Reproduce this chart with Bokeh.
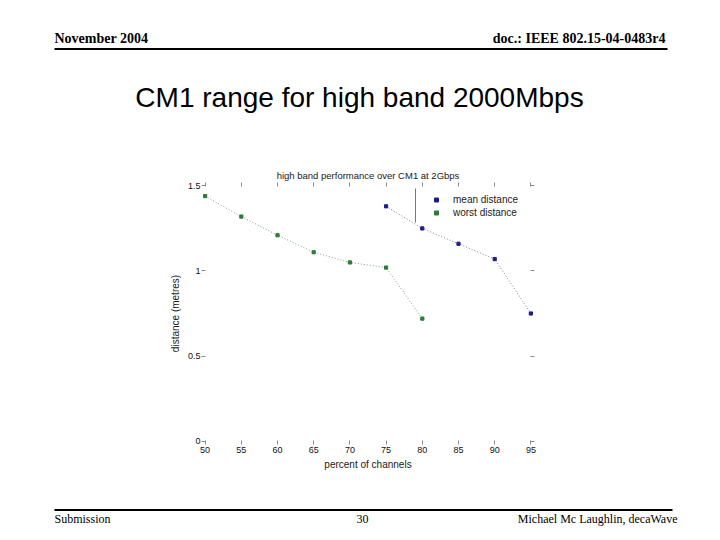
from bokeh.plotting import figure
from bokeh.layouts import column
from bokeh.models import (Range1d, LinearAxis, Label, Arrow, Legend, LegendItem,
                          FixedTicker, ColumnDataSource, Title)
from bokeh.embed import file_html
from bokeh.resources import INLINE

# ---- data ----
percent_mean = [75, 80, 85, 90, 95]
mean_distance = [1.38, 1.25, 1.16, 1.07, 0.75]
percent_worst = [50, 55, 60, 65, 70, 75, 80]
worst_distance = [1.44, 1.32, 1.21, 1.11, 1.05, 1.02, 0.72]

x_ticks = [50, 55, 60, 65, 70, 75, 80, 85, 90, 95]
y_ticks = [0, 0.5, 1, 1.5]
y_tick_labels = ["0", "0.5", "1", "1.5"]

chart_title = "high band performance over CM1 at 2Gbps"
x_label = "percent of channels"
y_label = "distance (metres)"
slide_title = "CM1 range for high band 2000Mbps"
header_left = "November 2004"
header_right = "doc.: IEEE 802.15-04-0483r4"
footer_left = "Submission"
footer_mid = "30"
footer_right = "Michael Mc Laughlin, decaWave"

SANS = "Liberation Sans"
SERIF = "Liberation Serif"
TICK_COLOR = "#8a8a8a"
W = 712
H_HEAD, H_CHART, H_FOOT = 150, 340, 42


def deco_figure(y0, y1):
    f = figure(width=W, height=y1 - y0, x_range=Range1d(0, W), y_range=Range1d(y1, y0),
               x_axis_type=None, y_axis_type=None, output_backend="svg",
               toolbar_location=None, min_border=0, frame_align=False)
    f.outline_line_color = None
    f.grid.visible = False
    f.background_fill_color = "white"
    f.border_fill_color = "white"
    return f


def add_text(f, text, x, y, font, size, align="left", style="normal"):
    f.add_layout(Label(x=x, y=y, text=text, text_font=font, text_font_size=size,
                       text_align=align, text_baseline="middle", text_font_style=style,
                       text_color="black"))


# ---- slide header ----
head = deco_figure(0, H_HEAD)
add_text(head, header_left, 54, 38, SERIF, "14px", style="bold")
add_text(head, header_right, 665, 38, SERIF, "14px", align="right", style="bold")
head.segment(x0=[54], y0=[48.5], x1=[667], y1=[48.5], line_color="black", line_width=2)
add_text(head, slide_title, 359, 97, SANS, "28px", align="center")

# ---- chart ----
p = figure(width=W, height=H_CHART, x_range=Range1d(49.5, 95.5), y_range=Range1d(-0.02, 1.52),
           output_backend="svg", toolbar_location=None, frame_align=False,
           min_border_left=201, min_border_right=W - 534,
           min_border_top=32, min_border_bottom=46)
p.outline_line_color = None
p.grid.visible = False
p.background_fill_color = "white"
p.border_fill_color = "white"
p.title = Title(text=chart_title, align="center", text_font=SANS, text_font_size="9.5px",
                text_font_style="normal", text_color="#1a1a1a", standoff=3)

mean_src = ColumnDataSource(dict(x=percent_mean, y=mean_distance))
worst_src = ColumnDataSource(dict(x=percent_worst, y=worst_distance))

p.line("x", "y", source=mean_src, line_color="#7f7fae", line_dash="1 2", line_width=1)
p.line("x", "y", source=worst_src, line_color="#7fa07f", line_dash="1 2", line_width=1)
r_mean = p.scatter("x", "y", source=mean_src, marker="square", size=3.2,
                   fill_color="#1c1c90", line_color="#1c1c90")
r_worst = p.scatter("x", "y", source=worst_src, marker="square", size=3.2,
                    fill_color="#2f7a38", line_color="#2f7a38")


def style_axis(ax, show_labels=True):
    ax.axis_line_color = None
    ax.major_tick_line_color = TICK_COLOR
    ax.major_tick_in = 4
    ax.major_tick_out = 0
    ax.minor_tick_line_color = None
    ax.major_label_text_font = SANS
    ax.major_label_text_font_size = "9px"
    ax.major_label_text_color = "#111111" if show_labels else None
    ax.axis_label_text_font = SANS
    ax.axis_label_text_font_size = "10px"
    ax.axis_label_text_font_style = "normal"
    ax.axis_label_text_color = "#1a1a1a"


xa = p.xaxis[0]
xa.ticker = FixedTicker(ticks=x_ticks)
style_axis(xa)
xa.major_label_standoff = 2
xa.axis_label = x_label
xa.axis_label_standoff = 3

ya = p.yaxis[0]
ya.ticker = FixedTicker(ticks=y_ticks)
ya.major_label_overrides = {t: s for t, s in zip(y_ticks, y_tick_labels)}
style_axis(ya)
ya.major_label_standoff = 1
ya.axis_label = y_label
ya.axis_label_standoff = 4

top_ax = LinearAxis(ticker=FixedTicker(ticks=x_ticks))
style_axis(top_ax, show_labels=False)
top_ax.major_label_standoff = 0
p.add_layout(top_ax, "above")
right_ax = LinearAxis(ticker=FixedTicker(ticks=y_ticks))
style_axis(right_ax, show_labels=False)
p.add_layout(right_ax, "right")

legend = Legend(items=[LegendItem(label="mean distance", renderers=[r_mean]),
                       LegendItem(label="worst distance", renderers=[r_worst])],
                location=(230, 225), border_line_color=None, background_fill_alpha=0,
                label_text_font=SANS, label_text_font_size="10px", label_text_color="#1a1a1a",
                label_height=13, glyph_height=13, glyph_width=10, spacing=0,
                padding=0, margin=0, label_standoff=12)
p.add_layout(legend)

# legend frame fragment visible in the reference
p.add_layout(Arrow(x_start=214, y_start=256, x_end=214, y_end=222,
                   start_units="screen", end_units="screen", end=None,
                   line_color="#777777", line_width=1))

# ---- slide footer ----
foot = deco_figure(H_HEAD + H_CHART, H_HEAD + H_CHART + H_FOOT)
foot.segment(x0=[54], y0=[509.5], x1=[672], y1=[509.5], line_color="black", line_width=2)
add_text(foot, footer_left, 54, 518, SERIF, "12px")
add_text(foot, footer_mid, 362, 518, SERIF, "12px", align="center")
add_text(foot, footer_right, 677, 518, SERIF, "12px", align="right")

layout = column(head, p, foot, spacing=0)
open("out.html", "w").write(file_html(layout, INLINE))
